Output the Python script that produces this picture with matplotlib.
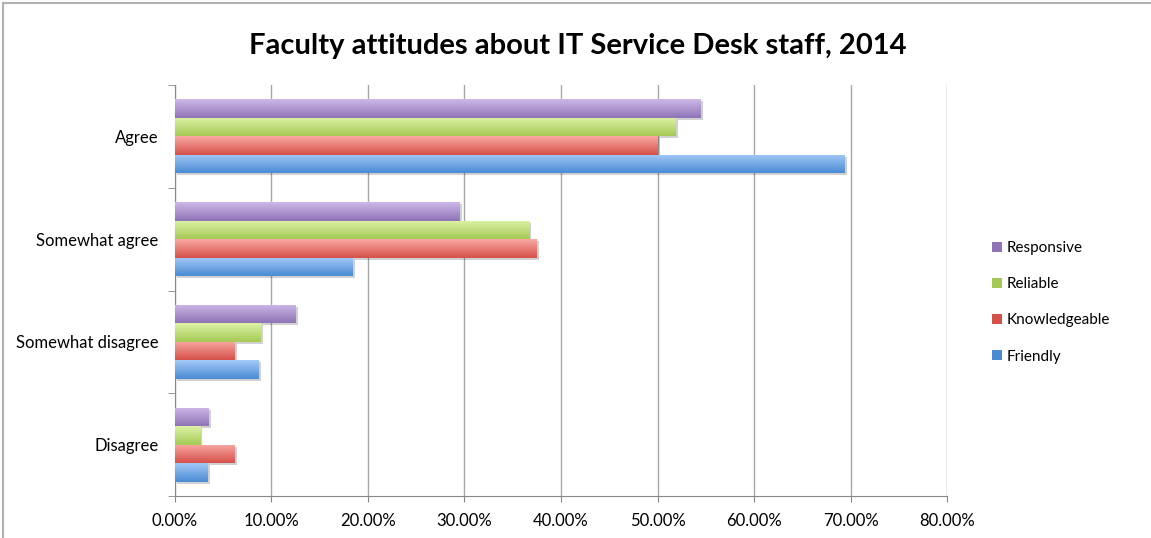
import numpy as np
import matplotlib
matplotlib.use("Agg")
import matplotlib.pyplot as plt
import matplotlib.patheffects as pe
from matplotlib.colors import LinearSegmentedColormap
from matplotlib.lines import Line2D
from matplotlib.ticker import FuncFormatter, FixedLocator

plt.rcParams["font.family"] = ["Lato", "DejaVu Sans"]

# Survey answers, bottom to top on the chart
categories = ["Disagree", "Somewhat disagree", "Somewhat agree", "Agree"]
series_names = ["Friendly", "Knowledgeable", "Reliable", "Responsive"]
friendly = [3.4, 8.7, 18.4, 69.4]
knowledgeable = [6.2, 6.2, 37.5, 50.0]
reliable = [2.6, 8.9, 36.7, 51.9]
responsive = [3.5, 12.5, 29.5, 54.5]
series_values = [friendly, knowledgeable, reliable, responsive]

# light top / dark bottom for each series
shades = {
    "Friendly": ("#a3c9f7", "#4a8bd4"),
    "Knowledgeable": ("#f8a8a3", "#d6504a"),
    "Reliable": ("#dcf3a6", "#a5c955"),
    "Responsive": ("#cdb8e8", "#8f74b6"),
}

fig = plt.figure(figsize=(11.51, 5.38), dpi=100)
ax = fig.add_axes([0.152, 0.078, 0.6708, 0.764])

bar_h = 0.18
y = np.arange(len(categories))
grad = np.linspace(0, 1, 64).reshape(-1, 1)

for i, (name, vals) in enumerate(zip(series_names, series_values)):
    offs = (i - 1.5) * bar_h
    bars = ax.barh(y + offs, vals, height=bar_h, color=shades[name][1],
                   label=name, zorder=3, linewidth=0)
    cmap = LinearSegmentedColormap.from_list(name, [shades[name][0], shades[name][1]])
    for b in bars:
        b.set_path_effects([pe.SimplePatchShadow(offset=(1.5, -1.5), shadow_rgbFace="#000000",
                                                 alpha=0.18),
                            pe.Normal()])
        x0, y0 = b.get_x(), b.get_y()
        w, h = b.get_width(), b.get_height()
        im = ax.imshow(grad, cmap=cmap, aspect="auto", zorder=4,
                       extent=(x0, x0 + w, y0, y0 + h), origin="upper",
                       interpolation="bilinear")
        im.set_clip_path(b)

ax.set_xlim(0, 80)
ax.set_ylim(-0.5, len(categories) - 0.5)
ax.set_xticks(np.arange(0, 81, 10))
ax.xaxis.set_major_formatter(FuncFormatter(lambda v, p: f"{v:.2f}%"))
ax.set_yticks(y)
ax.set_yticklabels(categories)
ax.yaxis.set_minor_locator(FixedLocator(np.arange(-0.5, len(categories), 1)))
ax.tick_params(axis="y", which="major", length=0, pad=12, labelsize=12)
ax.tick_params(axis="y", which="minor", length=5, color="#888888")
ax.tick_params(axis="x", length=4, color="#888888", labelsize=12, pad=8)

ax.grid(axis="x", color="#a8a8a8", linewidth=1.0, zorder=0)
for s in ["top", "right"]:
    ax.spines[s].set_visible(False)
for s in ["left", "bottom"]:
    ax.spines[s].set_color("#888888")

fig.text(0.502, 0.915, "Faculty attitudes about IT Service Desk staff, 2014",
         ha="center", va="center", fontsize=21, fontweight="bold")

handles, labels = ax.get_legend_handles_labels()
handles = [Line2D([], [], marker="s", linestyle="none", markersize=7,
                  markerfacecolor=shades[n][1], markeredgewidth=0) for n in labels]
fig.legend(handles[::-1], labels[::-1], loc="center left",
           bbox_to_anchor=(0.848, 0.438), frameon=False, fontsize=11,
           labelspacing=1.45, handletextpad=0.1, handlelength=1.0)

# chart frame on the top and left edges
fig.add_artist(Line2D([0.003, 1.0], [0.994, 0.994], color="#b0b0b0", linewidth=1.5))
fig.add_artist(Line2D([0.003, 0.003], [0.0, 0.994], color="#b0b0b0", linewidth=1.5))

fig.savefig("out.png", dpi=100)
